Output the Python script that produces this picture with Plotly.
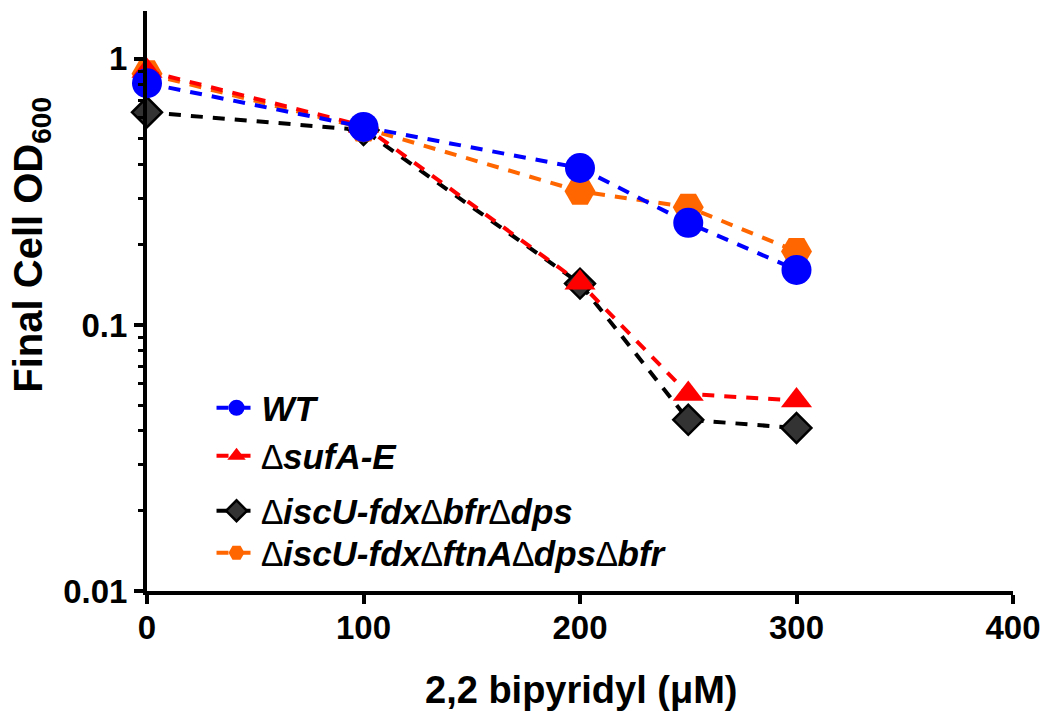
import plotly.graph_objects as go

# 2,2'-bipyridyl concentration (uM)
bipyridyl = [0, 100, 200, 250, 300]

# Final OD600 for each strain
od_wt = [0.81, 0.555, 0.389, 0.242, 0.161]
od_sufAE = [0.90, 0.56, 0.144, 0.055, 0.052]
od_iscU_bfr_dps = [0.63, 0.54, 0.143, 0.044, 0.041]
od_iscU_ftnA_dps_bfr = [0.88, 0.55, 0.318, 0.277, 0.189]

names = {
    "wt": "<b><i>WT</i></b>",
    "suf": "<i>\u2206<b>sufA-E</b></i>",
    "bfr": "<i>\u2206<b>iscU-fdx</b>\u2206<b>bfr</b>\u2206<b>dps</b></i>",
    "ftn": "<i>\u2206<b>iscU-fdx</b>\u2206<b>ftnA</b>\u2206<b>dps</b>\u2206<b>bfr</b></i>",
}

FONT = "Liberation Sans, Arial, sans-serif"
DASH = "12px,10px"

fig = go.Figure()

# drawn bottom to top: black, orange, red, blue
fig.add_trace(go.Scatter(
    x=bipyridyl, y=od_iscU_bfr_dps, name=names["bfr"], mode="lines+markers",
    line=dict(color="black", width=4, dash=DASH),
    marker=dict(symbol="diamond", size=23, color="#333333", line=dict(color="black", width=2.5)),
    cliponaxis=False, legend="legend3"))
fig.add_trace(go.Scatter(
    x=bipyridyl, y=od_iscU_ftnA_dps_bfr, name=names["ftn"], mode="lines+markers",
    line=dict(color="#FF6600", width=4, dash=DASH),
    marker=dict(symbol="hexagon2", size=31, color="#FF6600"),
    cliponaxis=False, legend="legend4"))
fig.add_trace(go.Scatter(
    x=bipyridyl, y=od_sufAE, name=names["suf"], mode="lines+markers",
    line=dict(color="#FF0000", width=4, dash=DASH),
    marker=dict(symbol="triangle-up", size=27, color="#FF0000"),
    cliponaxis=False, legend="legend2"))
fig.add_trace(go.Scatter(
    x=bipyridyl, y=od_wt, name=names["wt"], mode="lines+markers",
    line=dict(color="#0000FF", width=4, dash=DASH),
    marker=dict(symbol="circle", size=30, color="#0000FF"),
    cliponaxis=False, legend="legend"))

legend_common = dict(
    xanchor="left", yanchor="middle", x=0.0745,
    bgcolor="rgba(0,0,0,0)", borderwidth=0,
    font=dict(family=FONT, size=35, color="black"),
    itemwidth=40, itemsizing="trace",
)

axis_common = dict(
    showline=True, linewidth=4, linecolor="black", mirror=False,
    ticks="outside", ticklen=9, tickwidth=4, tickcolor="black",
    showgrid=False, zeroline=False,
    tickfont=dict(family=FONT, size=33, color="black", weight="bold"),
)

fig.update_layout(
    width=1052, height=715,
    margin=dict(l=147, r=32, t=11, b=124),
    plot_bgcolor="white", paper_bgcolor="white",
    showlegend=True,
    xaxis=dict(range=[0, 400], tickmode="array", tickvals=[0, 100, 200, 300, 400],
               ticktext=["0", "100", "200", "300", "400"], ticklabelstandoff=-5,
               **axis_common),
    yaxis=dict(type="log", range=[-2, 0.18], tickmode="array",
               tickvals=[0.01, 0.1, 1], ticktext=["0.01", "0.1", "1"],
               minor=dict(ticks="outside", ticklen=5, tickwidth=3, tickcolor="black",
                          dtick="D1", showgrid=False),
               **axis_common),
    legend=dict(y=0.3155, **legend_common),
    legend2=dict(y=0.2328, **legend_common),
    legend3=dict(y=0.1379, **legend_common),
    legend4=dict(y=0.0655, **legend_common),
    annotations=[
        dict(text="<b>2,2 bipyridyl (\u03bcM)</b>", xref="paper", yref="paper",
             x=0.502, y=-0.171, xanchor="center", yanchor="middle", showarrow=False,
             font=dict(family=FONT, size=38, color="black")),
        dict(text="<b>Final Cell OD<sub>600</sub></b>", xref="paper", yref="paper",
             x=-0.134, y=0.597, xanchor="center", yanchor="middle", showarrow=False,
             textangle=-90, font=dict(family=FONT, size=40, color="black")),
    ],
)

fig.write_html("out.html")
